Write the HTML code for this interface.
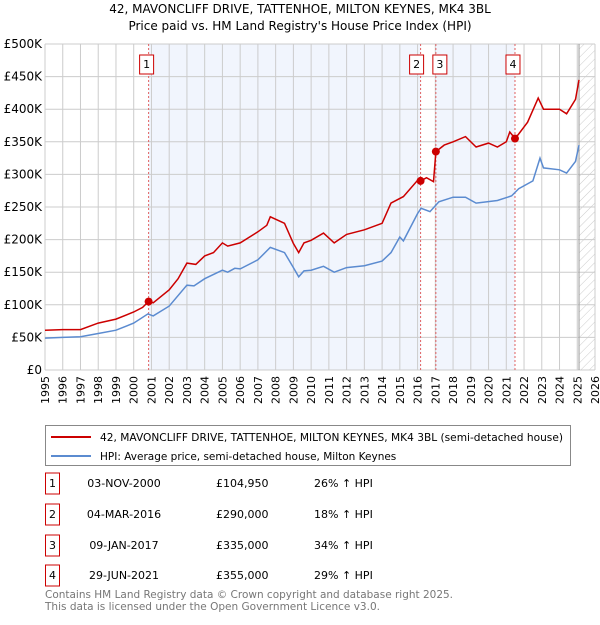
<!DOCTYPE html>
<html><head><meta charset="utf-8"><style>
body{margin:0;background:#fff;font-family:"Liberation Sans","DejaVu Sans",sans-serif;}
svg text{font-family:"DejaVu Sans","Liberation Sans",sans-serif;}
</style></head><body>
<svg width="600" height="620" xmlns="http://www.w3.org/2000/svg">
<defs><pattern id="hatch" width="6" height="6" patternUnits="userSpaceOnUse" patternTransform="rotate(45)"><line x1="0" y1="0" x2="0" y2="6" stroke="#ccc" stroke-width="1"/></pattern></defs>
<text x="300" y="13" text-anchor="middle" font-size="12">42, MAVONCLIFF DRIVE, TATTENHOE, MILTON KEYNES, MK4 3BL</text>
<text x="300" y="30" text-anchor="middle" font-size="12">Price paid vs. HM Land Registry's House Price Index (HPI)</text>
<g id="plot"></g>
<g>
<rect x="45.5" y="425.5" width="525" height="40" fill="#fff" stroke="#888"/>
<line x1="51" y1="437" x2="91" y2="437" stroke="#cc0000" stroke-width="2"/>
<text x="100" y="441" font-size="10.5" textLength="463" lengthAdjust="spacingAndGlyphs">42, MAVONCLIFF DRIVE, TATTENHOE, MILTON KEYNES, MK4 3BL (semi-detached house)</text>
<line x1="51" y1="456" x2="91" y2="456" stroke="#5b8bd0" stroke-width="2"/>
<text x="100" y="460" font-size="10.5">HPI: Average price, semi-detached house, Milton Keynes</text>
</g>
<g id="table" font-size="11"></g>
<text x="45" y="598" font-size="11" fill="#777" textLength="408" lengthAdjust="spacingAndGlyphs">Contains HM Land Registry data © Crown copyright and database right 2025.</text>
<text x="45" y="610" font-size="11" fill="#777" textLength="335" lengthAdjust="spacingAndGlyphs">This data is licensed under the Open Government Licence v3.0.</text>
</svg>
<script>
const yTicks=[0,50,100,150,200,250,300,350,400,450,500];
const yTickLabels=["£0","£50K","£100K","£150K","£200K","£250K","£300K","£350K","£400K","£450K","£500K"];
const years=[1995,1996,1997,1998,1999,2000,2001,2002,2003,2004,2005,2006,2007,2008,2009,2010,2011,2012,2013,2014,2015,2016,2017,2018,2019,2020,2021,2022,2023,2024,2025,2026];
const saleLabels=["1","2","3","4"];
const saleDates=[2000.84,2016.17,2017.03,2021.49];
const salePrices=[104.95,290,335,355];
const saleDateText=["03-NOV-2000","04-MAR-2016","09-JAN-2017","29-JUN-2021"];
const salePriceText=["£104,950","£290,000","£335,000","£355,000"];
const saleHpiText=["26% ↑ HPI","18% ↑ HPI","34% ↑ HPI","29% ↑ HPI"];
const redT=[1995,1996,1997,1998,1999,2000,2000.5,2000.84,2001.1,2002,2002.5,2003,2003.5,2004,2004.5,2005,2005.3,2006,2007,2007.5,2007.7,2008.5,2009,2009.3,2009.6,2010,2010.7,2011.3,2012,2013,2014,2014.5,2015.2,2016,2016.17,2016.5,2016.9,2017.03,2017.5,2018,2018.7,2019.3,2020,2020.5,2021,2021.2,2021.49,2021.7,2022.2,2022.8,2023.1,2024,2024.4,2024.9,2025.1];
const redV=[61,62,62,72,78,89,96,105,103,123,140,164,162,175,180,195,190,195,212,222,235,225,194,180,195,199,210,195,208,215,225,256,266,291,290,295,289,335,345,350,358,342,348,342,350,365,355,362,380,417,400,400,393,415,445];
const blueT=[1995,1996,1997,1998,1999,2000,2000.8,2001.1,2002,2003,2003.4,2004,2005,2005.3,2005.7,2006,2007,2007.7,2008.5,2009,2009.3,2009.6,2010,2010.7,2011.3,2012,2013,2014,2014.5,2015,2015.2,2016,2016.2,2016.7,2017.2,2018,2018.7,2019.3,2020.5,2021.3,2021.7,2022.5,2022.9,2023.1,2024,2024.4,2024.9,2025.1];
const blueV=[49,50,51,56,61,72,86,83,98,130,129,140,153,150,156,155,169,188,180,157,143,152,153,159,150,157,160,167,180,204,198,240,248,243,258,265,265,256,260,267,278,290,325,310,307,302,320,345];

const L=45,R=595,T=44,B=370,NS='http://www.w3.org/2000/svg';
const X=t=>L+(t-1995)*(R-L)/31;
const Y=v=>B-v*(B-T)/500;
const plot=document.getElementById('plot');
function mk(tag,attrs,parent){const e=document.createElementNS(NS,tag);for(const k in attrs)e.setAttribute(k,attrs[k]);(parent||plot).appendChild(e);return e;}
let e;
e=mk('rect',{x:X(saleDates[0]),y:T,width:X(saleDates[1])-X(saleDates[0]),height:B-T,fill:'#eef3fc',opacity:0.8});


e=mk('rect',{x:X(saleDates[2]),y:T,width:X(saleDates[3])-X(saleDates[2]),height:B-T,fill:'#eef3fc',opacity:0.8});


e=mk('rect',{x:X(2025.1),y:T,width:R-X(2025.1),height:B-T,fill:'url(#hatch)'});


years.forEach(y=>{
 e=mk('line',{x1:X(y),x2:X(y),y1:T,y2:B,stroke:'#ccc','stroke-width':1});
 
 
 e=mk('text',{x:0,y:0,'font-size':11,'text-anchor':'end',transform:`translate(${X(y)+4},${B+6}) rotate(-90)`});
 e.textContent=y;
 
 
});
yTicks.forEach((v,i)=>{
 e=mk('line',{x1:L,x2:R,y1:Y(v),y2:Y(v),stroke:'#ccc','stroke-width':1});
 
 
 e=mk('text',{x:L-3,y:Y(v)+4,'font-size':12,'text-anchor':'end'});
 e.textContent=yTickLabels[i];
 
 
});
e=mk('line',{x1:X(2025.1),x2:X(2025.1),y1:T,y2:B,stroke:'#999','stroke-width':1});


saleDates.forEach((d,i)=>{
 e=mk('line',{x1:X(d),x2:X(d),y1:T,y2:B,stroke:'#e06060','stroke-width':1,'stroke-dasharray':'2,2'});
 
 
});
const pts=(ts,vs)=>ts.map((t,i)=>X(t).toFixed(1)+','+Y(vs[i]).toFixed(1)).join(' ');
e=mk('polyline',{points:pts(blueT,blueV),fill:'none',stroke:'#5b8bd0','stroke-width':1.5});


e=mk('polyline',{points:pts(redT,redV),fill:'none',stroke:'#cc0000','stroke-width':1.5});


saleDates.forEach((d,i)=>{
 e=mk('circle',{cx:X(d),cy:Y(salePrices[i]),r:4,fill:'#cc0000'});
 
 
});
const labelX=[X(saleDates[0])-2,X(saleDates[1])-4,X(saleDates[2])+4,X(saleDates[3])-2];
saleDates.forEach((d,i)=>{
 const g=mk('g',{});
 
 
 mk('rect',{x:labelX[i]-7,y:55,width:14,height:19,fill:'#fff',stroke:'#cc0000'},g);
 const t=mk('text',{x:labelX[i],y:68,'font-size':11,'text-anchor':'middle'},g);t.textContent=saleLabels[i];
});
const tb=document.getElementById('table');
const rowY=[483,514,545,575];
saleLabels.forEach((s,i)=>{
 const g=mk('g',{},tb);
 
 
 mk('rect',{x:45.5,y:rowY[i]-10,width:14,height:21,fill:'#fff',stroke:'#cc0000'},g);
 let t=mk('text',{x:52.5,y:rowY[i]+4,'text-anchor':'middle'},g);t.textContent=s;
 t=mk('text',{x:124,y:rowY[i]+4,'text-anchor':'middle'},g);t.textContent=saleDateText[i];
 t=mk('text',{x:216,y:rowY[i]+4},g);t.textContent=salePriceText[i];
 t=mk('text',{x:314,y:rowY[i]+4},g);t.textContent=saleHpiText[i];
});
</script>
</body></html>
